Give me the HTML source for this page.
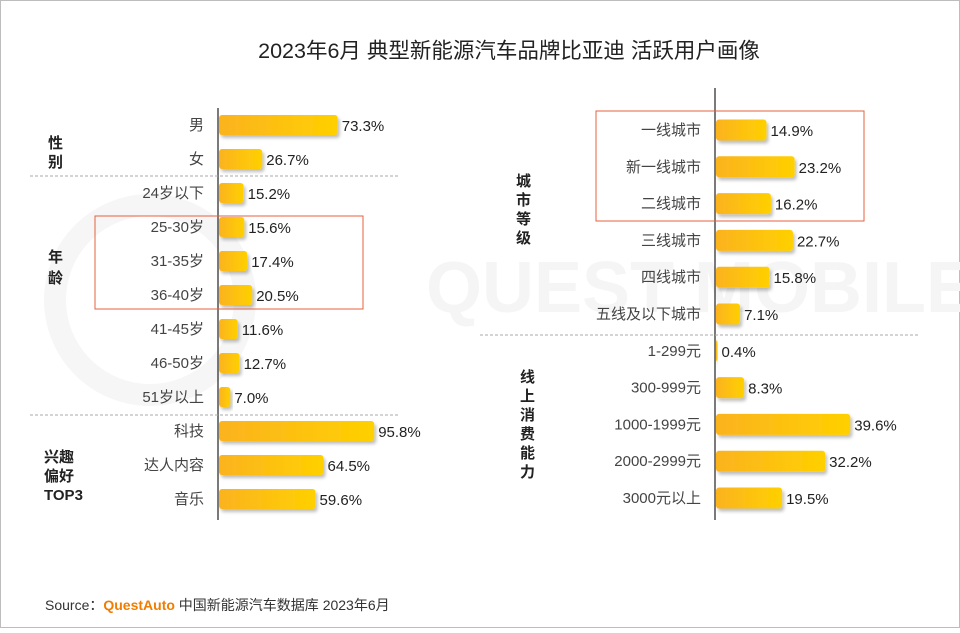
<!DOCTYPE html>
<html><head><meta charset="utf-8">
<style>
body{margin:0;width:960px;height:628px;overflow:hidden;background:#fff;font-family:"Liberation Sans","Noto Sans CJK SC",sans-serif;}
svg text{font-family:"Liberation Sans","Noto Sans CJK SC",sans-serif;}
</style></head><body>
<svg id="c" width="960" height="628">
<defs>
<linearGradient id="g" x1="0" x2="1" y1="0" y2="0"><stop offset="0" stop-color="#fbb31f"/><stop offset="1" stop-color="#ffd000"/></linearGradient>
<filter id="sh" x="-10%" y="-20%" width="130%" height="170%"><feDropShadow dx="2" dy="3" stdDeviation="1.5" flood-color="#000" flood-opacity="0.25"/></filter>
</defs>
<rect x="0.5" y="0.5" width="959" height="627" fill="#fff" stroke="#bdbdbd"/>
<text x="700" y="312" font-size="72" fill="#f5f5f5" text-anchor="middle" font-weight="bold">QUEST MOBILE</text>
<circle cx="150" cy="300" r="95" fill="none" stroke="#f6f6f6" stroke-width="22"/>
<text x="509" y="58" font-size="21.5" fill="#222" text-anchor="middle">2023年6月 典型新能源汽车品牌比亚迪 活跃用户画像</text>
<g id="left"></g><g id="right"></g>
<line x1="30" y1="176" x2="400" y2="176" stroke="#aaa" stroke-dasharray="3,2"/>
<line x1="30" y1="415" x2="400" y2="415" stroke="#aaa" stroke-dasharray="3,2"/>
<line x1="480" y1="335" x2="920" y2="335" stroke="#aaa" stroke-dasharray="3,2"/>
<rect x="95" y="216" width="268" height="93" fill="none" stroke="#e8603c"/>
<rect x="596" y="111" width="268" height="110" fill="none" stroke="#e8603c"/>
<g font-size="15" fill="#222" font-weight="bold">
<text x="48" y="148"><tspan x="48">性</tspan><tspan x="48" dy="19">别</tspan></text>
<text x="48" y="262"><tspan x="48">年</tspan><tspan x="48" dy="21">龄</tspan></text>
<text x="44" y="462"><tspan x="44">兴趣</tspan><tspan x="44" dy="19">偏好</tspan><tspan x="44" dy="19">TOP3</tspan></text>
<text x="516" y="186"><tspan x="516">城</tspan><tspan x="516" dy="19">市</tspan><tspan x="516" dy="19">等</tspan><tspan x="516" dy="19">级</tspan></text>
<text x="520" y="382"><tspan x="520">线</tspan><tspan x="520" dy="19">上</tspan><tspan x="520" dy="19">消</tspan><tspan x="520" dy="19">费</tspan><tspan x="520" dy="19">能</tspan><tspan x="520" dy="19">力</tspan></text>
</g>
<text x="45" y="610" font-size="14" fill="#333">Source：<tspan fill="#f07d00" font-weight="bold">QuestAuto</tspan> 中国新能源汽车数据库 2023年6月</text>
</svg>
<script>
const leftCats=["男","女","24岁以下","25-30岁","31-35岁","36-40岁","41-45岁","46-50岁","51岁以上","科技","达人内容","音乐"];
const leftVals=[73.3,26.7,15.2,15.6,17.4,20.5,11.6,12.7,7.0,95.8,64.5,59.6];
const rightCats=["一线城市","新一线城市","二线城市","三线城市","四线城市","五线及以下城市","1-299元","300-999元","1000-1999元","2000-2999元","3000元以上"];
const rightVals=[14.9,23.2,16.2,22.7,15.8,7.1,0.4,8.3,39.6,32.2,19.5];
const NS="http://www.w3.org/2000/svg";
function mk(t,a,p){const e=document.createElementNS(NS,t);for(const k in a)e.setAttribute(k,a[k]);p.appendChild(e);return e;}
function panel(g,cats,vals,x0,y0,step,scale,top,bottom,h){
  const ax=mk('line',{x1:x0,y1:top,x2:x0,y2:bottom,stroke:'#222','stroke-width':1.2},g);
  
  
  cats.forEach((c,i)=>{
    const cy=y0+i*step, w=Math.max(vals[i]*scale,1.5);
    const r=mk('rect',{x:x0+1,y:cy-h/2,width:w,height:h,rx:3,fill:'url(#g)',filter:'url(#sh)'},g);
    
    
    const l=mk('text',{x:x0-14,y:cy+5,'font-size':15,fill:'#444','text-anchor':'end'},g);l.textContent=c;
    
    
    const v=mk('text',{x:x0+w+5,y:cy+6,'font-size':15,fill:'#222'},g);v.textContent=vals[i].toFixed(1)+'%';
    
    
  });
}
panel(document.getElementById('left'),leftCats,leftVals,218,125,34.0,1.62,108,520,20);
panel(document.getElementById('right'),rightCats,rightVals,715,130,36.8,3.39,88,520,21);
</script>
</body></html>
